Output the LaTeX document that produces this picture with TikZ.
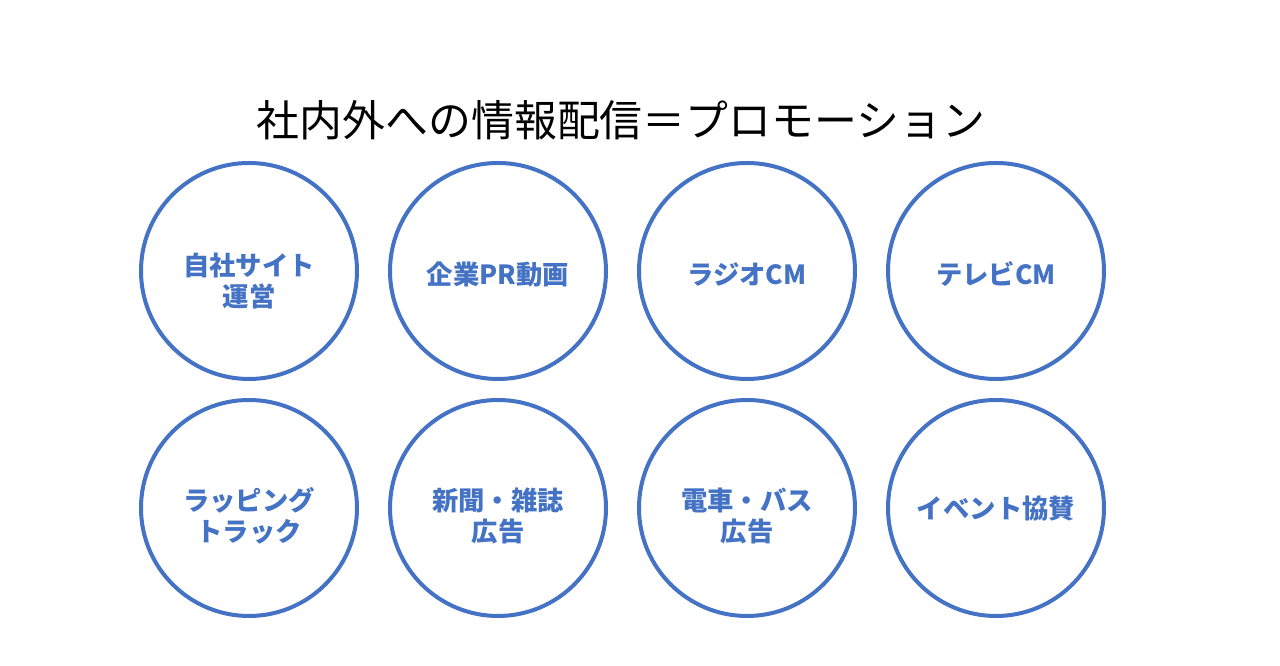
\documentclass[tikz,border=0pt]{standalone}
\usepackage{fontspec}
\newfontfamily\cjk{Noto Sans CJK JP}
\usepackage{xcolor}
\usepackage{tikz}
\usetikzlibrary{positioning}
\definecolor{ringblue}{HTML}{4472C4}

\begin{document}
\begin{tikzpicture}[-,
    auto,
    node distance=4.98cm]
  \tikzstyle{ring}=[circle,draw=ringblue,line width=0.08cm,minimum size=4.32cm,inner sep=0pt]
  \tikzstyle{tag}=[text=ringblue,align=center,font=\cjk\bfseries\fontsize{15}{17.6}\selectfont]
  \useasboundingbox (0,0) rectangle (25.6,13.32);

  \node (title) at (12.42,10.92) [font=\cjk\fontsize{24.4}{28}\selectfont] {社内外への情報配信＝プロモーション};

  \node[ring] (site)  at (4.98,7.9)          {};
  \node[ring] (movie) [right of=site]        {};
  \node[ring] (radio) [right of=movie]       {};
  \node[ring] (tv)    [right of=radio]       {};
  \node[ring] (truck) [below of=site,  node distance=4.74cm] {};
  \node[ring] (paper) [below of=movie, node distance=4.74cm] {};
  \node[ring] (train) [below of=radio, node distance=4.74cm] {};
  \node[ring] (event) [below of=tv,    node distance=4.74cm] {};

  \node[tag] (sitetxt)  at ([yshift=-0.2cm]site)   {自社サイト\\運営};
  \node[tag] (movietxt) at ([yshift=-0.08cm]movie) {企業PR動画};
  \node[tag] (radiotxt) at ([yshift=-0.06cm]radio) {ラジオCM};
  \node[tag] (tvtxt)    at ([yshift=-0.06cm]tv)    {テレビCM};
  \node[tag] (trucktxt) at ([yshift=-0.16cm]truck) {ラッピング\\トラック};
  \node[tag] (papertxt) at ([yshift=-0.16cm]paper) {新聞・雑誌\\広告};
  \node[tag] (traintxt) at ([yshift=-0.16cm]train) {電車・バス\\広告};
  \node[tag] (eventtxt) at ([yshift=-0.02cm]event) {イベント協賛};
\end{tikzpicture}
\end{document}
